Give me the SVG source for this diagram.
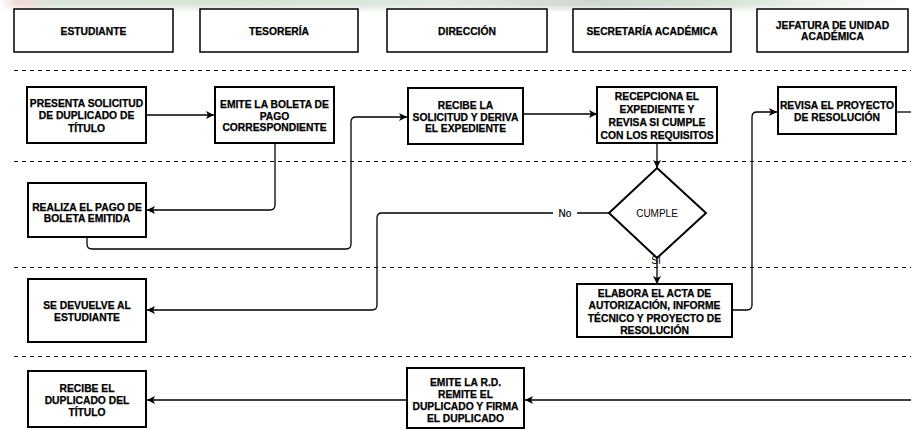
<svg xmlns="http://www.w3.org/2000/svg" width="911" height="430" viewBox="0 0 911 430">
  <defs>
    <marker id="arrow" markerUnits="userSpaceOnUse" markerWidth="10" markerHeight="10" refX="9" refY="5" orient="auto">
      <path d="M1,1 L9,5 L1,9 L3,5 z" fill="#000"/>
    </marker>
    <linearGradient id="band" x1="0" y1="0" x2="1" y2="0">
      <stop offset="0" stop-color="#ffffff"/>
      <stop offset="0.02" stop-color="#f0d8d8"/>
      <stop offset="0.06" stop-color="#d9e6d9"/>
      <stop offset="0.3" stop-color="#d6e4d6"/>
      <stop offset="0.5" stop-color="#e0e8e0"/>
      <stop offset="0.65" stop-color="#cdd6cd"/>
      <stop offset="0.8" stop-color="#d6e4d6"/>
      <stop offset="0.92" stop-color="#f0f5f0"/>
      <stop offset="1" stop-color="#ffffff"/>
    </linearGradient>
    <linearGradient id="fade" x1="0" y1="0" x2="0" y2="1">
      <stop offset="0" stop-color="#fff" stop-opacity="0"/>
      <stop offset="1" stop-color="#fff" stop-opacity="1"/>
    </linearGradient>
  </defs>
  <style>
    .hdr { fill: #fff; stroke: #000; stroke-width: 1.5; }
    .box { fill: #fff; stroke: #000; stroke-width: 2; }
    .t { font-family: "Liberation Sans", Arial, sans-serif; font-weight: bold; font-size: 10.3px; text-anchor: middle; fill: #000; stroke: #000; stroke-width: 0.25; }
    .lbl { font-family: "Liberation Sans", Arial, sans-serif; font-size: 10px; text-anchor: middle; fill: #000; }
    .lane { stroke: #111; stroke-width: 1; stroke-dasharray: 4 4; fill: none; }
    .edge { fill: none; stroke: #000; stroke-width: 1.3; }
  </style>

  <rect width="911" height="430" fill="#fff"/>
  <!-- faint banner along the top edge -->
  <rect x="0" y="0" width="911" height="12" fill="url(#band)"/>
  <rect x="0" y="4" width="911" height="9" fill="url(#fade)"/>

  <!-- lane separators -->
  <g id="lanes">
    <line class="lane" x1="14" y1="70.5" x2="911" y2="70.5"/>
    <line class="lane" x1="14" y1="161.5" x2="911" y2="161.5"/>
    <line class="lane" x1="14" y1="267.5" x2="911" y2="267.5"/>
    <line class="lane" x1="14" y1="356.5" x2="911" y2="356.5"/>
  </g>

  <!-- column headers -->
  <g id="h-estudiante">
    <rect class="hdr" x="14" y="9" width="159" height="43"/>
    <text class="t" x="93.5" y="34.5">ESTUDIANTE</text>
  </g>
  <g id="h-tesoreria">
    <rect class="hdr" x="200" y="9" width="158" height="43"/>
    <text class="t" x="279" y="34.5">TESORERÍA</text>
  </g>
  <g id="h-direccion">
    <rect class="hdr" x="387" y="9" width="160" height="43"/>
    <text class="t" x="467" y="34.5">DIRECCIÓN</text>
  </g>
  <g id="h-secretaria">
    <rect class="hdr" x="573" y="9" width="158" height="43"/>
    <text class="t" x="652" y="34.5">SECRETARÍA ACADÉMICA</text>
  </g>
  <g id="h-jefatura">
    <rect class="hdr" x="757" y="9" width="151" height="43"/>
    <text class="t" x="832.5" y="28.5">JEFATURA DE UNIDAD</text>
    <text class="t" x="832.5" y="40">ACADÉMICA</text>
  </g>

  <!-- connectors -->
  <g id="connectors">
    <path class="edge" d="M146,115 H214" marker-end="url(#arrow)"/>
    <path class="edge" d="M275,143 V205 Q275,210 270,210 H147" marker-end="url(#arrow)"/>
    <path class="edge" d="M87,237 V244 Q87,249 92,249 H346 Q351,249 351,244 V122 Q351,117 356,117 H407" marker-end="url(#arrow)"/>
    <path class="edge" d="M523,114 H597" marker-end="url(#arrow)"/>
    <path class="edge" d="M657,143 V168" marker-end="url(#arrow)"/>
    <path class="edge" d="M609,213 H382 Q377,213 377,218 V305 Q377,310 372,310 H147" marker-end="url(#arrow)"/>
    <path class="edge" d="M657,258 V284" marker-end="url(#arrow)"/>
    <path class="edge" d="M732,310 H747 Q752,310 752,305 V117 Q752,112 757,112 H777" marker-end="url(#arrow)"/>
    <path class="edge" d="M896,112 H911"/>
    <path class="edge" d="M911,400 H525" marker-end="url(#arrow)"/>
    <path class="edge" d="M407,400 H147" marker-end="url(#arrow)"/>
    <rect x="553" y="206" width="24" height="14" fill="#fff"/>
    <text class="lbl" x="565" y="217" stroke="#000" stroke-width="0.2">No</text>
    <text class="lbl" x="656" y="264">SI</text>
  </g>

  <!-- process nodes -->
  <g id="n-presenta">
    <rect class="box" x="27" y="87" width="119" height="56"/>
    <text class="t" x="86.5" y="106.5">PRESENTA SOLICITUD</text>
    <text class="t" x="86.5" y="119">DE DUPLICADO DE</text>
    <text class="t" x="86.5" y="131.5">TÍTULO</text>
  </g>
  <g id="n-emite-boleta">
    <rect class="box" x="215" y="87" width="119" height="56"/>
    <text class="t" x="274.5" y="107.5">EMITE LA BOLETA DE</text>
    <text class="t" x="274.5" y="119.5">PAGO</text>
    <text class="t" x="274.5" y="131">CORRESPONDIENTE</text>
  </g>
  <g id="n-recibe-solicitud">
    <rect class="box" x="408" y="88" width="115" height="56"/>
    <text class="t" x="465.5" y="108.5">RECIBE LA</text>
    <text class="t" x="465.5" y="120.5">SOLICITUD Y DERIVA</text>
    <text class="t" x="465.5" y="131.5">EL EXPEDIENTE</text>
  </g>
  <g id="n-recepciona">
    <rect class="box" x="597" y="87" width="120" height="56"/>
    <text class="t" x="657" y="99.5">RECEPCIONA EL</text>
    <text class="t" x="657" y="112.5">EXPEDIENTE Y</text>
    <text class="t" x="657" y="125.5">REVISA SI CUMPLE</text>
    <text class="t" x="657" y="138.5">CON LOS REQUISITOS</text>
  </g>
  <g id="n-revisa">
    <rect class="box" x="778" y="87" width="118" height="47"/>
    <text class="t" x="837" y="108.5">REVISA EL PROYECTO</text>
    <text class="t" x="837" y="120.5">DE RESOLUCIÓN</text>
  </g>
  <g id="n-realiza-pago">
    <rect class="box" x="28" y="183" width="118" height="54"/>
    <text class="t" x="87" y="210.5">REALIZA EL PAGO DE</text>
    <text class="t" x="87" y="221.5">BOLETA EMITIDA</text>
  </g>
  <g id="n-cumple">
    <polygon class="box" points="657,168 706,213 657,258 609,213"/>
    <text class="lbl" x="657" y="216.5" font-size="9">CUMPLE</text>
  </g>
  <g id="n-devuelve">
    <rect class="box" x="28" y="279" width="118" height="63"/>
    <text class="t" x="87" y="308.5">SE DEVUELVE AL</text>
    <text class="t" x="87" y="320.5">ESTUDIANTE</text>
  </g>
  <g id="n-elabora">
    <rect class="box" x="577" y="284" width="155" height="53"/>
    <text class="t" x="654.5" y="296.5">ELABORA EL ACTA DE</text>
    <text class="t" x="654.5" y="309">AUTORIZACIÓN, INFORME</text>
    <text class="t" x="654.5" y="321.5">TÉCNICO Y PROYECTO DE</text>
    <text class="t" x="654.5" y="333.5">RESOLUCIÓN</text>
  </g>
  <g id="n-recibe-duplicado">
    <rect class="box" x="28" y="371" width="118" height="56"/>
    <text class="t" x="87" y="391.5">RECIBE EL</text>
    <text class="t" x="87" y="403.5">DUPLICADO DEL</text>
    <text class="t" x="87" y="415.5">TÍTULO</text>
  </g>
  <g id="n-emite-rd">
    <rect class="box" x="407" y="368" width="117" height="60"/>
    <text class="t" x="465.5" y="385.5">EMITE LA R.D.</text>
    <text class="t" x="465.5" y="397.5">REMITE EL</text>
    <text class="t" x="465.5" y="409.5">DUPLICADO Y FIRMA</text>
    <text class="t" x="465.5" y="421.5">EL DUPLICADO</text>
  </g>
</svg>
